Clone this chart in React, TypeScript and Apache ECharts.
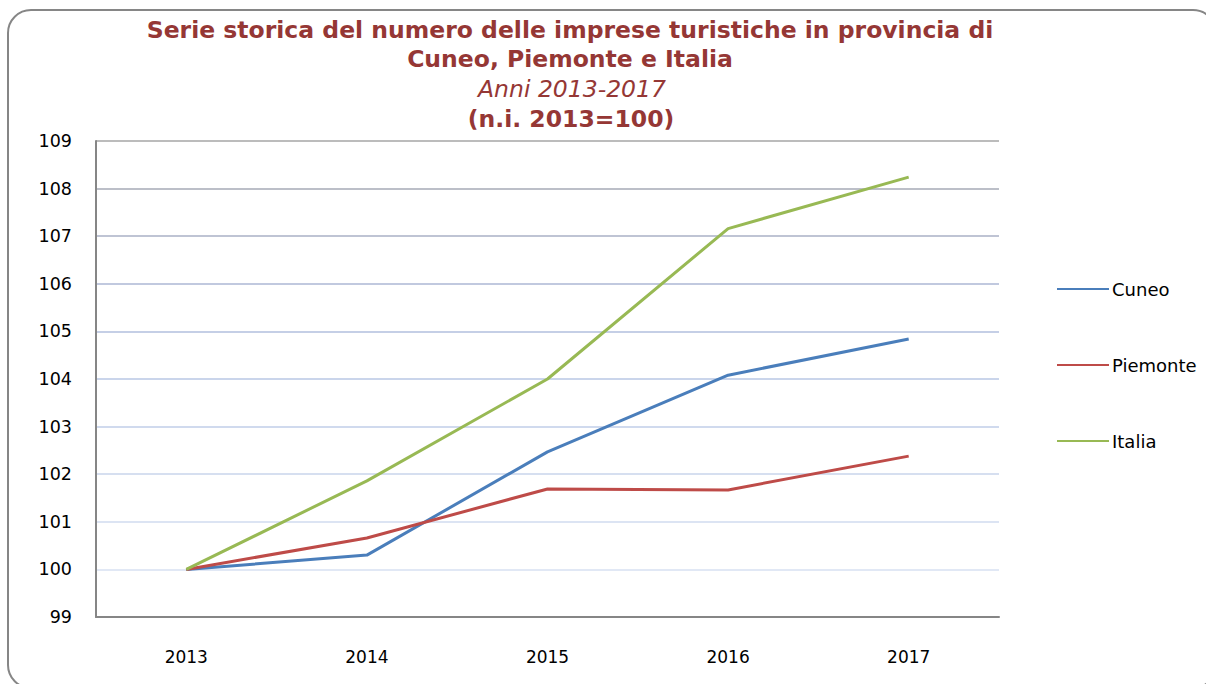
import React, { useEffect, useRef } from "react";
import * as echarts from "echarts";

const years = ["2013", "2014", "2015", "2016", "2017"];
const cuneo = [100, 100.3, 102.47, 104.08, 104.84];
const piemonte = [100, 100.66, 101.69, 101.67, 102.38];
const italia = [100, 101.86, 104.0, 107.16, 108.24];
const titleLines = [
  "Serie storica del numero delle imprese turistiche in provincia di",
  "Cuneo, Piemonte e Italia",
  "Anni 2013-2017",
  "(n.i. 2013=100)",
];

const gridColors = [
  "#868686",
  "#e1e8f5",
  "#dce4f3",
  "#d6dff0",
  "#d0daee",
  "#cad5eb",
  "#c5cfe6",
  "#c1c9df",
  "#bfc4d4",
  "#bcbfc8",
  "#bcbcbc",
];

export default function App() {
  const ref = useRef<HTMLDivElement>(null);
  useEffect(() => {
    if (!ref.current) return;
    const chart = echarts.init(ref.current, undefined, { renderer: "svg" });
    const font = "Verdana, 'DejaVu Sans', sans-serif";
    const titleColor = "#953735";
    const tfs = 23.5;
    chart.setOption({
      animation: false,
      backgroundColor: "#ffffff",
      textStyle: { fontFamily: font },
      graphic: [
        {
          type: "rect",
          shape: { x: 8, y: 10, width: 1208, height: 678, r: 23 },
          style: { fill: "none", stroke: "#868686", lineWidth: 2 },
          silent: true,
        },
        {
          type: "text",
          x: 570,
          y: 30,
          style: { text: titleLines[0], fill: titleColor, font: `bold ${tfs}px ${font}`, align: "center", verticalAlign: "middle" },
        },
        {
          type: "text",
          x: 570,
          y: 59,
          style: { text: titleLines[1], fill: titleColor, font: `bold ${tfs}px ${font}`, align: "center", verticalAlign: "middle" },
        },
        {
          type: "text",
          x: 572,
          y: 89,
          style: { text: titleLines[2], fill: titleColor, font: `italic ${tfs}px ${font}`, align: "center", verticalAlign: "middle" },
        },
        {
          type: "text",
          x: 571,
          y: 119,
          style: { text: titleLines[3], fill: titleColor, font: `bold ${tfs}px ${font}`, align: "center", verticalAlign: "middle" },
        },
      ],
      grid: { left: 96, right: 207, top: 141, bottom: 67, containLabel: false },
      legend: {
        orient: "vertical",
        left: 1057,
        top: 280,
        padding: 0,
        itemWidth: 52,
        itemHeight: 20,
        itemGap: 58,
        icon: "path://M0,9 L52,9 L52,11 L0,11 Z",
        textStyle: { fontFamily: font, fontSize: 18, color: "#000", padding: [0, 0, 0, -2] },
        data: ["Cuneo", "Piemonte", "Italia"],
      },
      xAxis: {
        type: "category",
        data: years,
        boundaryGap: true,
        axisLine: { show: true, lineStyle: { color: "#868686", width: 2 } },
        axisTick: { show: false },
        axisLabel: { fontFamily: font, fontSize: 17, color: "#000", margin: 31 },
        splitLine: { show: false },
      },
      yAxis: {
        type: "value",
        min: 99,
        max: 109,
        interval: 1,
        axisLine: { show: true, lineStyle: { color: "#868686", width: 2 } },
        axisTick: { show: false },
        axisLabel: { fontFamily: font, fontSize: 17.5, color: "#000", margin: 24 },
        splitLine: { show: true, lineStyle: { color: gridColors, width: 2 } },
      },
      series: [
        { name: "Cuneo", type: "line", data: cuneo, symbol: "none", lineStyle: { color: "#4a7ebb", width: 3 }, itemStyle: { color: "#4a7ebb" } },
        { name: "Piemonte", type: "line", data: piemonte, symbol: "none", lineStyle: { color: "#be4b48", width: 3 }, itemStyle: { color: "#be4b48" } },
        { name: "Italia", type: "line", data: italia, symbol: "none", lineStyle: { color: "#98b954", width: 3 }, itemStyle: { color: "#98b954" } },
      ],
    });
    return () => chart.dispose();
  }, []);
  return <div ref={ref} style={{ position: "fixed", left: 0, top: 0, width: 1206, height: 684 }} />;
}
